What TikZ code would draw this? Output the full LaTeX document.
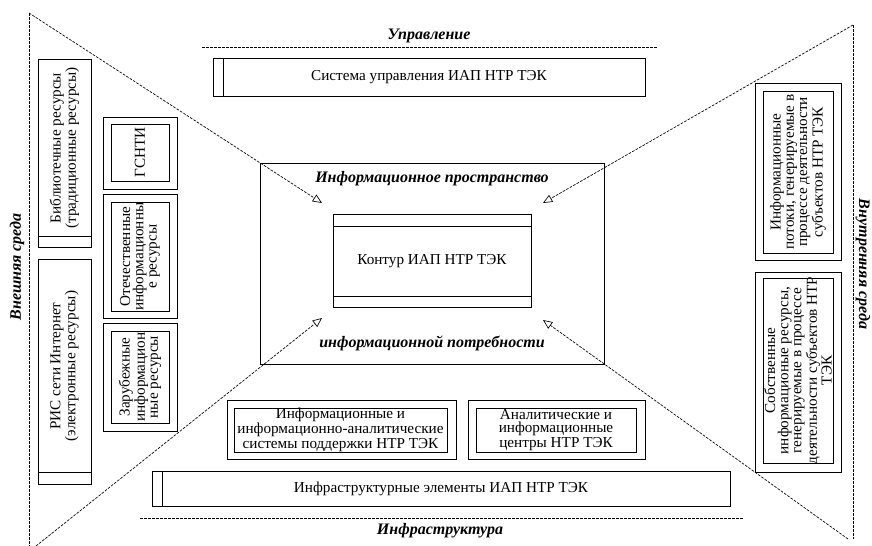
\documentclass[tikz,border=0pt]{standalone}
\usepackage{fontspec}
\setmainfont{Liberation Serif}
\usetikzlibrary{arrows.meta}

\begin{document}
\begin{tikzpicture}[x=0.75pt,y=-0.75pt,
    frame/.style={line width=0.6pt},
    txt/.style={font=\fontsize{11.4}{9.9}\selectfont, align=center, inner sep=0pt},
    hdr/.style={font=\fontsize{12}{14}\selectfont\bfseries\itshape, inner sep=0pt},
    dline/.style={line width=0.5pt, dash pattern=on 2pt off 1pt},
    flow/.style={dline, -{Triangle[open,length=7pt,width=6pt]}}]
  \useasboundingbox (0,0) rectangle (872,546);

  % Управление
  \node[hdr] (upr) at (429,36) {Управление};
  \draw[dline] (202,47) -- (657,47);
  \draw[frame] (213,58) rectangle (645,96) (223,58) -- (223,96);
  \node[txt] (sys) at (429,77) {Система управления ИАП НТР ТЭК};

  % внешняя среда
  \coordinate (tl) at (29,13);
  \coordinate (bl) at (29,546);
  \coordinate (blx) at (36,546);
  \draw[dline] (tl) -- (bl);
  \node[hdr, rotate=90] (ext) at (17,267) {Внешняя среда};
  \draw[frame] (38,59) rectangle (91,247) (38,236) -- (91,236);
  \node[txt, rotate=90] (lib) at (64.5,148) {Библиотечные ресурсы\\(традиционные ресурсы)};
  \draw[frame] (38,259) rectangle (91,484) (38,472) -- (91,472);
  \node[txt, rotate=90] (ris) at (64.5,366) {РИС сети Интернет\\(электронные ресурсы)};
  \draw[frame] (103,117) rectangle (177,189) (111,124) rectangle (169,181);
  \node[txt, rotate=90] (gsnti) at (140,152.5) {ГСНТИ};
  \draw[frame] (103,194) rectangle (177,318) (111,202) rectangle (169,311);
  \node[txt, rotate=90] (otech) at (140,256.5) {Отечественные\\информационны\\е ресурсы};
  \draw[frame] (103,323) rectangle (177,431) (111,331) rectangle (169,423);
  \node[txt, rotate=90] (zarub) at (140,377) {Зарубежные\\информацион\\ные ресурсы};

  % информационное пространство
  \draw[frame] (260,163) rectangle (604,364);
  \node[hdr] (prostr) at (432,179) {Информационное пространство};
  \node[hdr] (potr) at (432,343) {информационной потребности};
  \draw[frame] (333,214) rectangle (531,307) (333,226) -- (531,226) (333,296) -- (531,296);
  \node[txt] (kontur) at (432,261) {Контур ИАП НТР ТЭК};

  % внутренняя среда
  \coordinate (tr) at (853,25);
  \coordinate (br) at (853,539);
  \coordinate (brx) at (848,539);
  \draw[dline] (tr) -- (br);
  \node[hdr, rotate=-90] (int) at (863,264) {Внутренняя среда};
  \draw[frame] (755,83) rectangle (841,260) (763,91) rectangle (833,253);
  \node[txt, rotate=90] (potoki) at (798,172) {Информационные\\потоки, генерируемые в\\процессе деятельности\\субъектов НТР ТЭК};
  \draw[frame] (755,272) rectangle (841,472) (763,278) rectangle (833,463);
  \node[txt, rotate=90] (sobstv) at (798,370.5) {Собственные\\информационые ресурсы,\\генерируемые в процессе\\деятельности субъектов НТР\\ТЭК};

  % стрелки к контуру
  \coordinate (a1) at (322,203);
  \coordinate (a2) at (543,203);
  \coordinate (a3) at (322,318);
  \coordinate (a4) at (543,320);
  \draw[flow] (tl) -- (a1);
  \draw[flow] (tr) -- (a2);
  \draw[flow] (blx) -- (a3);
  \draw[flow] (brx) -- (a4);

  % Инфраструктура
  \draw[frame] (227,400) rectangle (456,459) (234,408) rectangle (447,452);
  \node[txt] (sist) at (340.5,430) {Информационные и\\информационно-аналитические\\системы поддержки НТР ТЭК};
  \draw[frame] (468,400) rectangle (645,459) (476,408) rectangle (636,452);
  \node[txt] (centr) at (556,430) {Аналитические и\\информационные\\центры НТР ТЭК};
  \draw[frame] (152,471) rectangle (730,506) (162,471) -- (162,506);
  \node[txt] (infra) at (441,489) {Инфраструктурные элементы ИАП НТР ТЭК};
  \draw[dline] (140,518) -- (743,518);
  \node[hdr] (infr) at (440,531) {Инфраструктура};
\end{tikzpicture}
\end{document}
